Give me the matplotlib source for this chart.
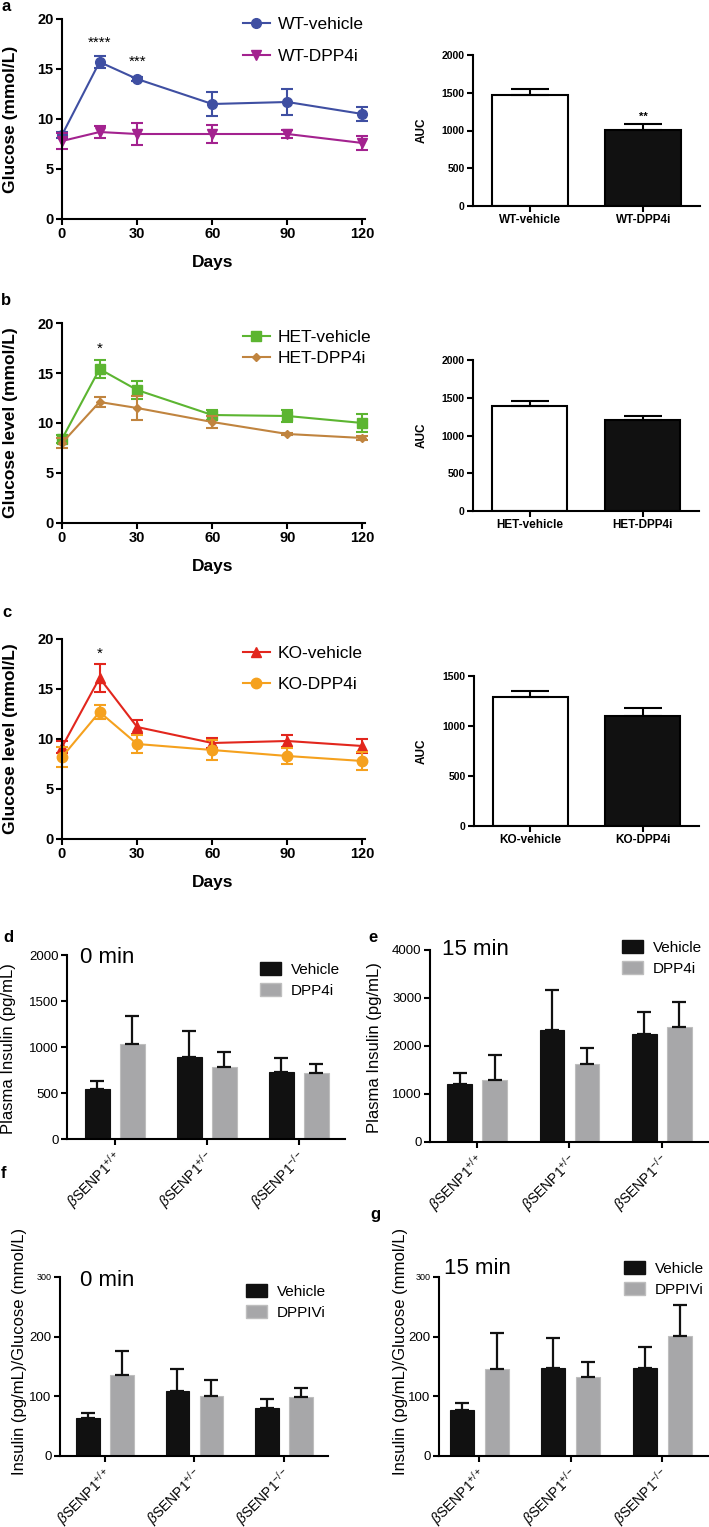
import matplotlib
matplotlib.use('Agg')
import matplotlib.pyplot as plt
import matplotlib.transforms as mtrans
from matplotlib.patches import Patch

W, H = 709, 1527

plt.rcParams['font.family'] = ['Liberation Sans', 'DejaVu Sans']
plt.rcParams['mathtext.fontset'] = 'custom'
plt.rcParams['mathtext.rm'] = 'Liberation Sans'
plt.rcParams['mathtext.it'] = 'Liberation Sans:italic'
plt.rcParams['mathtext.bf'] = 'Liberation Sans:bold'

# ---- data ----
days = [0, 15, 30, 60, 90, 120]

wt_veh = [8.4, 15.7, 14.0, 11.5, 11.7, 10.5]
wt_veh_err = [0.3, 0.6, 0.2, 1.2, 1.3, 0.7]
wt_dpp = [7.8, 8.7, 8.5, 8.5, 8.5, 7.6]
wt_dpp_err = [0.8, 0.6, 1.1, 0.9, 0.4, 0.7]

het_veh = [8.4, 15.4, 13.3, 10.8, 10.7, 10.0]
het_veh_err = [0.4, 0.9, 0.9, 0.5, 0.6, 0.9]
het_dpp = [8.0, 12.1, 11.5, 10.1, 8.9, 8.5]
het_dpp_err = [0.5, 0.5, 1.2, 0.6, 0.1, 0.2]

ko_veh = [9.2, 16.1, 11.2, 9.6, 9.8, 9.3]
ko_veh_err = [0.6, 1.4, 0.7, 0.5, 0.6, 0.7]
ko_dpp = [8.2, 12.7, 9.5, 8.9, 8.3, 7.8]
ko_dpp_err = [1.0, 0.7, 0.9, 1.0, 0.8, 0.9]

auc_wt_names = ['WT-vehicle', 'WT-DPP4i']
auc_wt = [1465, 1007]
auc_wt_err = [80, 75]
auc_het_names = ['HET-vehicle', 'HET-DPP4i']
auc_het = [1389, 1204]
auc_het_err = [71, 53]
auc_ko_names = ['KO-vehicle', 'KO-DPP4i']
auc_ko = [1290, 1100]
auc_ko_err = [63, 85]

genotypes = [r'$\beta$SENP1$^{+/+}$', r'$\beta$SENP1$^{+/-}$', r'$\beta$SENP1$^{-/-}$']

ins0_veh = [540, 890, 725]
ins0_veh_err = [90, 280, 155]
ins0_dpp = [1030, 785, 715]
ins0_dpp_err = [310, 160, 100]

ins15_veh = [1200, 2330, 2250]
ins15_veh_err = [230, 830, 450]
ins15_dpp = [1290, 1630, 2400]
ins15_dpp_err = [530, 330, 510]

ratio0_veh = [63, 109, 80]
ratio0_veh_err = [9, 36, 16]
ratio0_dpp = [135, 100, 99]
ratio0_dpp_err = [41, 27, 15]

ratio15_veh = [77, 147, 147]
ratio15_veh_err = [12, 51, 36]
ratio15_dpp = [146, 132, 201]
ratio15_dpp_err = [60, 26, 52]

fig = plt.figure(figsize=(W / 100, H / 100), dpi=100)


def px_axes(l, t, r, b):
    return fig.add_axes([l / W, 1 - b / H, (r - l) / W, (b - t) / H])


def ftext(x, y, s, **kw):
    fig.text(x / W, 1 - y / H, s, **kw)


def clean(ax, lw=1.5):
    for s in ['top', 'right']:
        ax.spines[s].set_visible(False)
    for s in ['left', 'bottom']:
        ax.spines[s].set_linewidth(lw)
    ax.tick_params(width=lw, length=4, direction='out', pad=2)


# ---- panels a-c: glucose over time ----
def glucose_panel(box, series, ylabel, stars, leg_top, leg_space):
    ax = px_axes(*box)
    handles = []
    for name, vals, errs, col, mk, ms in series:
        ax.errorbar(days, vals, yerr=errs, fmt='none', ecolor=col, elinewidth=1.5,
                    capsize=4, capthick=1.5, clip_on=False)
        h, = ax.plot(days, vals, color=col, marker=mk, ms=ms, lw=1.5, label=name, clip_on=False)
        handles.append(h)
    for x, y, s in stars:
        ax.text(x, y, s, ha='center', va='center', fontsize=11)
    ax.set_xlim(0, 121)
    ax.set_ylim(0, 20)
    ax.set_xticks([0, 30, 60, 90, 120])
    ax.set_yticks([0, 5, 10, 15, 20])
    clean(ax)
    ax.tick_params(labelsize=10.5)
    for lab in ax.get_xticklabels() + ax.get_yticklabels():
        lab.set_fontweight('bold')
    ax.legend(handles=handles, loc='upper left', bbox_to_anchor=(243 / W, 1 - leg_top / H),
              bbox_transform=fig.transFigure, frameon=False, borderpad=0, borderaxespad=0,
              handlelength=1.55, handletextpad=0.45, labelspacing=leg_space, fontsize=12.5)
    l, t, r, b = box
    ftext(11, (t + b) / 2, ylabel, rotation=90, ha='center', va='center',
          fontsize=12.5, fontweight='bold')
    ftext(213, b + 43, 'Days', ha='center', va='center', fontsize=12.5, fontweight='bold')
    return ax


def auc_panel(box, names, vals, errs, ymax, star=None):
    ax = px_axes(*box)
    x = list(range(len(names)))
    ax.bar(x, vals, width=0.67, color=['white', '#111111'], edgecolor='black', lw=1.5)
    ax.errorbar(x, vals, yerr=[[0] * len(vals), errs], fmt='none', ecolor='black',
                elinewidth=1.5, capsize=14, capthick=1.5)
    if star:
        ax.text(1, star[0], star[1], ha='center', va='center', fontsize=8, fontweight='bold')
    ax.set_xlim(-0.5, 1.5)
    ax.set_ylim(0, ymax)
    ax.set_yticks(range(0, ymax + 1, 500))
    ax.set_xticks(x)
    ax.set_xticklabels(names)
    clean(ax)
    ax.tick_params(labelsize=7.5)
    ax.tick_params(axis='x', labelsize=8.5)
    for lab in ax.get_xticklabels() + ax.get_yticklabels():
        lab.set_fontweight('bold')
    l, t, r, b = box
    ftext(422, (t + b) / 2, 'AUC', rotation=90, ha='center', va='center',
          fontsize=8.5, fontweight='bold')
    return ax


glucose_panel((62, 19, 365, 219),
              [('WT-vehicle', wt_veh, wt_veh_err, '#3F4FA2', 'o', 7),
               ('WT-DPP4i', wt_dpp, wt_dpp_err, '#A3228F', 'v', 7)],
              'Glucose (mmol/L)', [(15, 17.6, '****'), (30, 15.7, '***')], 17, 0.95)
auc_panel((473, 55, 700, 206), auc_wt_names, auc_wt, auc_wt_err, 2000, (1183, '**'))

glucose_panel((62, 323, 365, 523),
              [('HET-vehicle', het_veh, het_veh_err, '#5CB531', 's', 6.5),
               ('HET-DPP4i', het_dpp, het_dpp_err, '#C0843F', 'D', 4.5)],
              'Glucose level (mmol/L)', [(15, 17.4, '*')], 330, 0.32)
auc_panel((473, 360, 699, 511), auc_het_names, auc_het, auc_het_err, 2000)

glucose_panel((62, 639, 365, 839),
              [('KO-vehicle', ko_veh, ko_veh_err, '#E2261D', '^', 7),
               ('KO-DPP4i', ko_dpp, ko_dpp_err, '#F5A11E', 'o', 7.5)],
              'Glucose level (mmol/L)', [(15, 18.5, '*')], 646, 0.9)
auc_panel((474, 676, 699, 826), auc_ko_names, auc_ko, auc_ko_err, 1500)


# ---- panels d-g: insulin bars ----
def insulin_panel(box, xlim, veh, veh_err, dpp, dpp_err, ymax, ystep, dpp_name,
                  title, title_xy, leg_xy, ylabel, ylabel_xy, small_top=False):
    ax = px_axes(*box)
    x = list(range(len(genotypes)))
    off = 0.19
    ax.bar([i - off for i in x], veh, width=0.265, color='#111111', edgecolor='#111111', lw=0.8)
    ax.bar([i + off for i in x], dpp, width=0.265, color='#A7A7A9', edgecolor='#BEBEBE', lw=0.8)
    ax.errorbar([i - off for i in x], veh, yerr=[[0] * 3, veh_err], fmt='none', ecolor='#111111',
                elinewidth=1.6, capsize=5, capthick=1.6)
    ax.errorbar([i + off for i in x], dpp, yerr=[[0] * 3, dpp_err], fmt='none', ecolor='#111111',
                elinewidth=1.6, capsize=5, capthick=1.6)
    ax.set_xlim(*xlim)
    ax.set_ylim(0, ymax)
    ax.set_yticks(range(0, ymax + 1, ystep))
    ax.set_xticks(x)
    ax.set_xticklabels(genotypes, rotation=45, ha='right', va='center', rotation_mode='anchor')
    clean(ax)
    ax.tick_params(axis='y', labelsize=9.5)
    ax.tick_params(axis='x', labelsize=10, pad=7)
    shift = mtrans.ScaledTranslation(5 / 100, 0, fig.dpi_scale_trans)
    for lab in ax.get_xticklabels():
        lab.set_transform(lab.get_transform() + shift)
    if small_top:
        ax.get_yticklabels()[-1].set_fontsize(6.5)
    ftext(title_xy[0], title_xy[1], title, ha='left', va='baseline', fontsize=16)
    ax.legend(handles=[Patch(facecolor='#111111', edgecolor='#111111', label='Vehicle'),
                       Patch(facecolor='#A7A7A9', edgecolor='#BEBEBE', label=dpp_name)],
              loc='upper left', bbox_to_anchor=(leg_xy[0] / W, 1 - leg_xy[1] / H),
              bbox_transform=fig.transFigure, frameon=False, borderpad=0, borderaxespad=0,
              handlelength=1.4, handleheight=0.9, handletextpad=0.6, labelspacing=0.45,
              fontsize=11)
    ftext(ylabel_xy[0], ylabel_xy[1], ylabel, rotation=90, ha='center', va='center', fontsize=12)
    return ax


insulin_panel((67, 955, 345, 1139), (-0.52, 2.5), ins0_veh, ins0_veh_err, ins0_dpp, ins0_dpp_err,
              2000, 500, 'DPP4i', '0 min', (80, 963), (260, 962),
              'Plasma Insulin (pg/mL)', (9, 1049))
insulin_panel((430, 950, 708, 1142), (-0.51, 2.5), ins15_veh, ins15_veh_err, ins15_dpp,
              ins15_dpp_err, 4000, 1000, 'DPP4i', '15 min', (442, 955), (622, 940),
              'Plasma Insulin (pg/mL)', (375, 1048))
insulin_panel((60, 1277, 328, 1456), (-0.5, 2.49), ratio0_veh, ratio0_veh_err, ratio0_dpp,
              ratio0_dpp_err, 300, 100, 'DPPIVi', '0 min', (80, 1286), (246, 1284),
              'Insulin (pg/mL)/Glucose (mmol/L)', (20, 1351), small_top=True)
insulin_panel((439, 1277, 708, 1456), (-0.44, 2.5), ratio15_veh, ratio15_veh_err, ratio15_dpp,
              ratio15_dpp_err, 300, 100, 'DPPIVi', '15 min', (444, 1274), (624, 1261),
              'Insulin (pg/mL)/Glucose (mmol/L)', (400, 1351), small_top=True)

# panel letters
for s, x, y in [('a', 1, 11), ('b', 1, 305), ('c', 2, 617), ('d', 3, 942),
                ('e', 368, 942), ('f', 1, 1178), ('g', 370, 1219)]:
    ftext(x, y, s, ha='left', va='baseline', fontsize=12, fontweight='bold')

fig.savefig('out.png', dpi=100)
